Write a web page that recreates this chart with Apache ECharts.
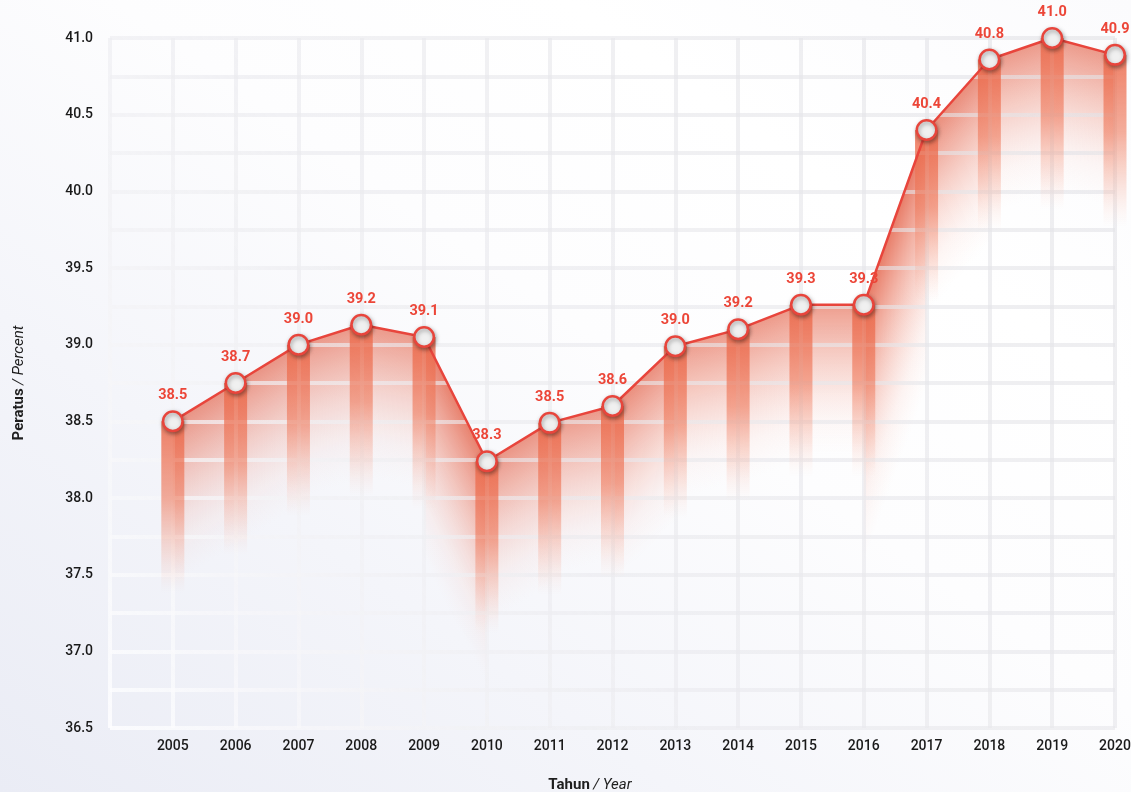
<!DOCTYPE html>
<html>
<head>
<meta charset="utf-8">
<script src="https://cdn.jsdelivr.net/npm/echarts@6/dist/echarts.min.js"></script>
<style>
  html, body { margin: 0; padding: 0; }
  body {
    width: 1131px; height: 792px; overflow: hidden;
    background: linear-gradient(to top right, #eaecf5 0%, #f4f5fa 30%, #fdfdfe 55%, #ffffff 75%, #fbfbfd 100%);
  }
  #chart { width: 1131px; height: 792px; }
</style>
</head>
<body>
<div id="chart"></div>
<script>
// ---- data ----
const years = [2005, 2006, 2007, 2008, 2009, 2010, 2011, 2012, 2013, 2014, 2015, 2016, 2017, 2018, 2019, 2020];
const values = [38.50, 38.75, 39.00, 39.13, 39.05, 38.24, 38.49, 38.60, 38.99, 39.10, 39.26, 39.26, 40.40, 40.86, 41.00, 40.89];
const pointLabels = ['38.5', '38.7', '39.0', '39.2', '39.1', '38.3', '38.5', '38.6', '39.0', '39.2', '39.3', '39.3', '40.4', '40.8', '41.0', '40.9'];
const yTickLabels = ['36.5', '37.0', '37.5', '38.0', '38.5', '39.0', '39.5', '40.0', '40.5', '41.0'];

const RED = '#e8453c';
const points = years.map((y, i) => [y, values[i]]);
const segments = [];
for (let i = 0; i < years.length - 1; i++) {
  segments.push([years[i], values[i], years[i + 1], values[i + 1]]);
}

const chart = echarts.init(document.getElementById('chart'), null, { renderer: 'canvas' });

const gridLineColor = new echarts.graphic.LinearGradient(1115, 38, 110, 728, [
  { offset: 0, color: 'rgba(226,226,230,0.62)' },
  { offset: 0.6, color: 'rgba(234,234,238,0.62)' },
  { offset: 1, color: 'rgba(253,253,255,0.85)' }
], true);

function areaItem(params, api) {
  const p1 = api.coord([api.value(0), api.value(1)]);
  const p2 = api.coord([api.value(2), api.value(3)]);
  const dx = p2[0] - p1[0], dy = p2[1] - p1[1];
  const len = Math.sqrt(dx * dx + dy * dy);
  const cos = dx / len;
  const h = 150 * Math.sqrt(cos);          // perpendicular fade length
  const vert = h / cos + 4;                  // vertical polygon depth
  const nx = -dy / len, ny = dx / len;       // downward normal
  const a = 0.6 + 0.3 * (1 - cos);
  const grad = new echarts.graphic.LinearGradient(
    p1[0], p1[1], p1[0] + nx * h, p1[1] + ny * h, [
      { offset: 0, color: 'rgba(226,92,66,' + a.toFixed(3) + ')' },
      { offset: 0.4, color: 'rgba(234,120,96,' + (a * 0.5).toFixed(3) + ')' },
      { offset: 0.75, color: 'rgba(244,165,148,' + (a * 0.15).toFixed(3) + ')' },
      { offset: 1, color: 'rgba(250,195,180,0)' }
    ], true);
  return {
    type: 'polygon',
    shape: { points: [p1, p2, [p2[0], p2[1] + vert], [p1[0], p1[1] + vert]] },
    style: { fill: grad }
  };
}

function barItem(params, api) {
  const x = api.value(0), v = api.value(1);
  const top = api.coord([x, v]);
  const bot = api.coord([x, v - 1.12]);
  const w = 23;
  return {
    type: 'rect',
    shape: { x: top[0] - w / 2, y: top[1], width: w, height: bot[1] - top[1] },
    style: {
      fill: new echarts.graphic.LinearGradient(0, 0, 0, 1, [
        { offset: 0, color: 'rgba(235,105,75,0.85)' },
        { offset: 0.45, color: 'rgba(238,120,90,0.6)' },
        { offset: 0.8, color: 'rgba(244,150,125,0.2)' },
        { offset: 1, color: 'rgba(250,190,170,0)' }
      ])
    }
  };
}

const nameRich = {
  b: { fontFamily: 'Roboto', fontWeight: 'bold', fontSize: 15, color: '#1e1e1e' },
  i: { fontFamily: 'Roboto', fontStyle: 'italic', fontSize: 15, color: '#1e1e1e' }
};

const option = {
  backgroundColor: 'transparent',
  animation: false,
  grid: { left: 110, right: 16, top: 38, bottom: 64, containLabel: false, outerBoundsMode: 'none' },
  xAxis: {
    type: 'value',
    min: 2004, max: 2020, interval: 1,
    z: 2,
    axisLine: { show: false },
    axisTick: { show: false },
    axisLabel: {
      margin: 11,
      color: '#1a1a1a', fontSize: 14, fontWeight: 500, fontFamily: 'Roboto',
      formatter: v => (v === 2004 ? '' : String(v))
    },
    splitLine: { show: true, showMinLine: true, showMaxLine: true, lineStyle: { color: gridLineColor, width: 4 } },
    name: '{b|Tahun} {i|/ Year}',
    nameLocation: 'middle',
    nameGap: 50,
    nameTextStyle: { padding: [0, 45, 0, 0], rich: nameRich }
  },
  yAxis: {
    type: 'value',
    min: 36.5, max: 41, interval: 0.25,
    z: 2,
    axisLine: { show: false },
    axisTick: { show: false },
    axisLabel: {
      margin: 17,
      color: '#1a1a1a', fontSize: 14, fontWeight: 500, fontFamily: 'Roboto',
      formatter: v => {
        const s = v.toFixed(1);
        return (Math.round(v * 100) % 50 === 0 && yTickLabels.indexOf(s) >= 0) ? s : '';
      }
    },
    splitLine: { show: true, showMinLine: true, showMaxLine: true, lineStyle: { color: gridLineColor, width: 4 } },
    name: '{b|Peratus} {i|/ Percent}',
    nameLocation: 'middle',
    nameGap: 83,
    nameRotate: 90,
    nameTextStyle: { padding: [0, 0, 0, 0], rich: nameRich }
  },
  series: [
    {
      type: 'custom',
      name: 'area',
      z: 1,
      silent: true,
      clip: false,
      renderItem: areaItem,
      encode: { x: [0, 2], y: [1, 3] },
      data: segments
    },
    {
      type: 'custom',
      name: 'bars',
      z: 3,
      silent: true,
      clip: false,
      renderItem: barItem,
      encode: { x: 0, y: 1 },
      data: points
    },
    {
      type: 'line',
      name: 'Peratus',
      z: 5,
      clip: false,
      data: points,
      lineStyle: { color: RED, width: 2.5 },
      symbol: 'circle',
      symbolSize: 19.5,
      itemStyle: {
        color: '#f0f0f0', borderColor: RED, borderWidth: 2.5,
        shadowColor: 'rgba(0,0,0,0.35)', shadowBlur: 4, shadowOffsetX: 1, shadowOffsetY: 2
      },
      label: {
        show: true, position: 'top', distance: 7,
        color: '#ec4638', fontFamily: 'Roboto', fontWeight: 'bold', fontSize: 14.5,
        formatter: p => pointLabels[p.dataIndex]
      }
    }
  ]
};

chart.setOption(option);
</script>
</body>
</html>
